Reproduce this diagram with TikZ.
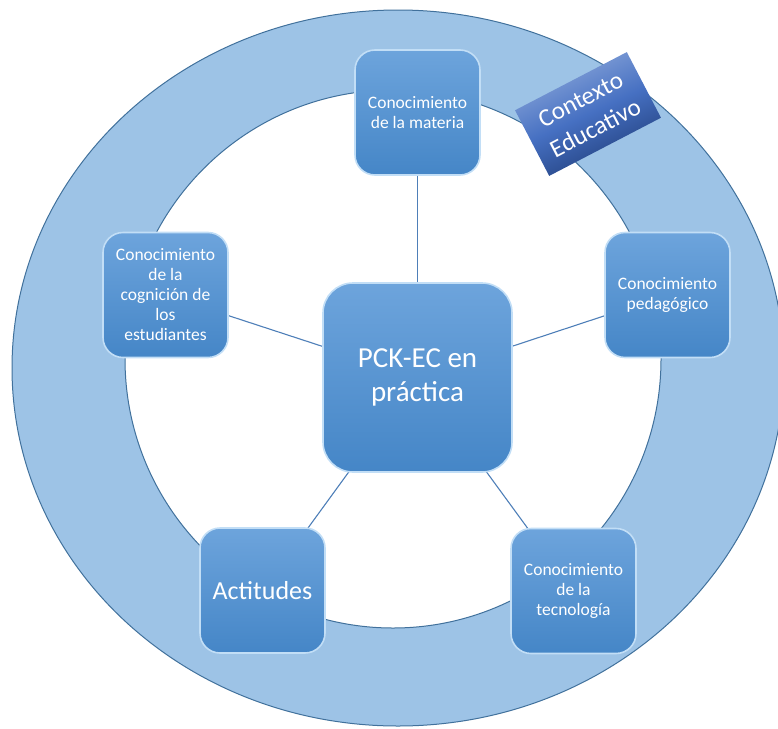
\documentclass[tikz,border=0pt]{standalone}
\usepackage{fontspec}
\setmainfont{Carlito}
\pgfdeclarelayer{ring}
\pgfdeclarelayer{links}
\pgfsetlayers{ring,links,main}
\definecolor{ringfill}{HTML}{9DC3E6}
\definecolor{ringedge}{HTML}{41719C}
\definecolor{boxtop}{HTML}{6DA4DC}
\definecolor{boxbot}{HTML}{4586C7}
\definecolor{boxedge}{HTML}{C2DEF6}
\definecolor{linkcol}{HTML}{4E7FB8}
\definecolor{ctxtop}{HTML}{8EA9DB}
\definecolor{ctxmid}{HTML}{4670C2}
\definecolor{ctxbot}{HTML}{1F3C78}
\tikzset{
  kbox/.style={rounded corners=20pt, minimum width=125pt, minimum height=125pt,
    top color=boxtop, bottom color=boxbot, draw=boxedge, line width=1.6pt,
    text=white, align=center, inner sep=0pt,
    font=\fontsize{17.5}{20}\selectfont},
  bigbox/.style={kbox, rounded corners=30pt, minimum width=189pt, minimum height=189pt,
    font=\fontsize{29}{34}\selectfont},
  ctxbox/.style={minimum width=126pt, minimum height=74pt, inner sep=0pt,
    top color=ctxtop, bottom color=ctxbot, middle color=ctxmid, shading angle=25,
    text=white, align=center, font=\fontsize{25}{32}\selectfont},
  link/.style={draw=linkcol, line width=1.1pt}
}
\begin{document}
\begin{tikzpicture}[x=1pt,y=-1pt]
\useasboundingbox (0,0) rectangle (778,728);
\clip (0,0) rectangle (778,728);

% educational-context ring
\begin{pgfonlayer}{ring}
  \fill[ringfill, even odd rule]
    (398,368) ellipse [x radius=386, y radius=358]
    (393,359) ellipse [x radius=268, y radius=269];
  \draw[ringedge, line width=1pt] (398,368) ellipse [x radius=386, y radius=358];
  \draw[ringedge, line width=1pt] (393,359) ellipse [x radius=268, y radius=269];
\end{pgfonlayer}

% knowledge components
\node[bigbox] (pck) at (417.5,377.5) {PCK-EC en\\práctica};
\node[kbox] (mat) at (417.5,112.5) {Conocimiento\\de la materia};
\node[kbox] (ped) at (667.5,295) {Conocimiento\\pedagógico};
\node[kbox] (cog) at (165.5,295) {Conocimiento\\de la\\cognición de\\los\\estudiantes};
\node[kbox, font=\fontsize{26}{30}\selectfont] (act) at (262.5,590.5) {Actitudes};
\node[kbox] (tec) at (573.5,591) {Conocimiento\\de la\\tecnología};

% links from the centre
\begin{pgfonlayer}{links}
  \foreach \n in {mat,ped,cog,act,tec}
    \draw[link] (pck.center) -- (\n.center);
\end{pgfonlayer}

% context label
\node[ctxbox, rotate=27.5] (ctx) at (588,114) {Contexto\\Educativo};
\end{tikzpicture}
\end{document}
